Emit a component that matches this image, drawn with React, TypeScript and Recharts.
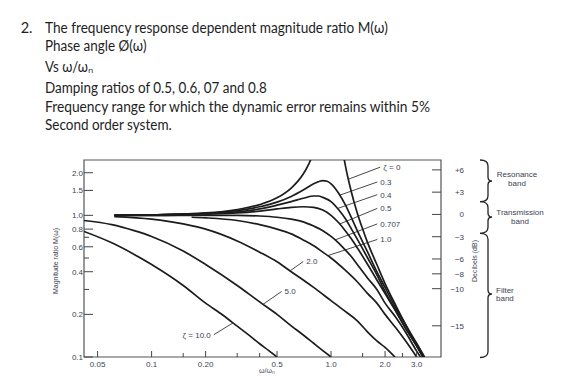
import React from "react";
import {
  LineChart,
  Line,
  XAxis,
  YAxis,
  ReferenceArea,
  ReferenceLine,
  ReferenceDot,
} from "recharts";

// axis ranges (log scales)
const xDomain = [0.042, 4.1];
const yDomain = [0.1, 2.46];
const dbDomain = [-19.2, 7.33];

const xTicks = [0.05, 0.1, 0.15, 0.2, 0.3, 0.4, 0.5, 1, 1.5, 2, 2.5, 3];
const xTickLabels = ["0.05", "0.1", "", "0.20", "", "", "0.5", "1.0", "", "2.0", "", "3.0"];
const yTicks = [0.1, 0.2, 0.3, 0.4, 0.5, 0.6, 0.7, 0.8, 1, 1.5, 2];
const yTickLabels = ["0.1", "0.2", "", "0.4", "", "0.6", "", "0.8", "1.0", "1.5", "2.0"];
const dbTicks = [6, 3, 0, -3, -6, -8, -10, -15];
const dbTickLabels = ["+6", "+3", "0", "−3", "−6", "−8", "−10", "−15"];

// magnitude ratio M vs frequency ratio w/wn, one pair of arrays per damping ratio
const ratioZeta0 = [0.062, 0.1, 0.2, 0.3, 0.4, 0.5, 0.6, 0.65, 0.7, 0.75, 0.8, 1.0, 1.15, 1.2, 1.3, 1.4, 1.5, 1.6, 1.8, 2.0, 2.3, 2.6, 3.0, 3.32];
const magZeta0 = [1.0, 1.01, 1.04, 1.1, 1.19, 1.33, 1.56, 1.73, 1.96, 2.29, 2.78, null, 3.1, 2.27, 1.45, 1.04, 0.8, 0.64, 0.45, 0.33, 0.23, 0.17, 0.125, 0.1];

const ratioZeta03 = [0.062, 0.1, 0.2, 0.3, 0.4, 0.5, 0.6, 0.7, 0.8, 0.9, 0.95, 1.0, 1.1, 1.2, 1.3, 1.4, 1.6, 1.8, 2.0, 2.3, 2.6, 3.0, 3.3];
const magZeta03 = [1.0, 1.01, 1.03, 1.08, 1.15, 1.24, 1.36, 1.51, 1.67, 1.76, 1.74, 1.67, 1.44, 1.19, 0.96, 0.78, 0.55, 0.4, 0.31, 0.22, 0.17, 0.12, 0.099];

const ratioZeta04 = [0.062, 0.1, 0.2, 0.3, 0.4, 0.5, 0.6, 0.7, 0.8, 0.85, 0.9, 1.0, 1.1, 1.2, 1.3, 1.4, 1.6, 1.8, 2.0, 2.3, 2.6, 3.0, 3.3];
const magZeta04 = [1.0, 1.01, 1.03, 1.06, 1.11, 1.18, 1.25, 1.32, 1.37, 1.37, 1.34, 1.25, 1.1, 0.95, 0.8, 0.68, 0.5, 0.38, 0.29, 0.21, 0.16, 0.12, 0.098];

const ratioZeta05 = [0.062, 0.1, 0.2, 0.3, 0.4, 0.5, 0.6, 0.7, 0.8, 0.9, 1.0, 1.1, 1.2, 1.3, 1.4, 1.6, 1.8, 2.0, 2.3, 2.6, 3.0, 3.25];
const magZeta05 = [1.0, 1.0, 1.02, 1.04, 1.07, 1.11, 1.14, 1.15, 1.14, 1.09, 1.0, 0.89, 0.78, 0.68, 0.59, 0.45, 0.35, 0.28, 0.21, 0.16, 0.12, 0.099];

const ratioZeta0707 = [0.062, 0.2, 0.3, 0.4, 0.5, 0.6, 0.7, 0.8, 0.9, 1.0, 1.1, 1.2, 1.3, 1.4, 1.6, 1.8, 2.0, 2.3, 2.6, 3.0, 3.15];
const magZeta0707 = [1.0, 1.0, 1.0, 0.99, 0.97, 0.94, 0.9, 0.84, 0.78, 0.71, 0.64, 0.57, 0.51, 0.45, 0.36, 0.3, 0.24, 0.19, 0.15, 0.11, 0.1];

const ratioZeta1 = [0.167, 0.2, 0.3, 0.4, 0.5, 0.6, 0.7, 0.8, 0.9, 1.0, 1.2, 1.4, 1.6, 1.8, 2.0, 2.3, 2.6, 3.0];
const magZeta1 = [0.97, 0.96, 0.92, 0.86, 0.8, 0.74, 0.67, 0.61, 0.55, 0.5, 0.41, 0.34, 0.28, 0.24, 0.2, 0.16, 0.13, 0.1];

const ratioZeta2 = [0.062, 0.1, 0.15, 0.2, 0.3, 0.4, 0.5, 0.6, 0.7, 0.8, 1.0, 1.2, 1.4, 1.6, 1.8, 2.0, 2.27];
const magZeta2 = [0.98, 0.94, 0.87, 0.8, 0.66, 0.55, 0.47, 0.4, 0.35, 0.31, 0.25, 0.21, 0.18, 0.15, 0.13, 0.117, 0.1];

const ratioZeta5 = [0.042, 0.06, 0.08, 0.1, 0.15, 0.2, 0.3, 0.4, 0.5, 0.6, 0.7, 0.8, 0.9, 1.0];
const magZeta5 = [0.92, 0.86, 0.78, 0.71, 0.56, 0.45, 0.32, 0.245, 0.2, 0.166, 0.143, 0.125, 0.111, 0.1];

const ratioZeta10 = [0.042, 0.06, 0.08, 0.1, 0.15, 0.2, 0.25, 0.3, 0.35, 0.4, 0.45, 0.5];
const magZeta10 = [0.77, 0.64, 0.53, 0.45, 0.32, 0.24, 0.197, 0.165, 0.142, 0.124, 0.111, 0.1];

// curve labels with their leader lines (from a point on the curve to the label)
const leaderText = ["ζ = 0", "0.3", "0.4", "0.5", "0.707", "1.0", "2.0", "5.0", "ζ = 10.0"];
const leaderFrom = [[1.25, 1.8], [1.12, 1.39], [1.09, 1.12], [1.12, 0.87], [1.05, 0.67], [0.96, 0.52], [0.59, 0.405], [0.417, 0.235], [0.284, 0.174]];
const leaderTo = [[1.88, 2.19], [1.81, 1.72], [1.81, 1.4], [1.81, 1.12], [1.81, 0.87], [1.81, 0.676], [0.7, 0.472], [0.53, 0.29], [0.222, 0.1436]];

const toRows = (r: number[], m: (number | null)[]) => r.map((v, i) => ({ r: v, m: m[i] }));

const curves = [
  toRows(ratioZeta0, magZeta0),
  toRows(ratioZeta03, magZeta03),
  toRows(ratioZeta04, magZeta04),
  toRows(ratioZeta05, magZeta05),
  toRows(ratioZeta0707, magZeta0707),
  toRows(ratioZeta1, magZeta1),
  toRows(ratioZeta2, magZeta2),
  toRows(ratioZeta5, magZeta5),
  toRows(ratioZeta10, magZeta10),
];

const tickColor = "#3b4256";
const inkColor = "#1c1c1c";

const renderXTick = (props: any) => {
  const { x, y, payload } = props;
  const label = xTickLabels[xTicks.indexOf(payload.value)];
  return (
    <g>
      <line x1={x} x2={x} y1={y} y2={y - (label ? 6 : 4)} stroke="#444" strokeWidth={1} />
      {label ? (
        <text x={x} y={y + 10} textAnchor="middle" fontSize={8} fill={tickColor}>
          {label}
        </text>
      ) : null}
    </g>
  );
};

const renderYTick = (props: any) => {
  const { x, y, payload } = props;
  const label = yTickLabels[yTicks.indexOf(payload.value)];
  return (
    <g>
      <line x1={x} x2={x + (label ? 9 : 5)} y1={y} y2={y} stroke="#444" strokeWidth={1} />
      {label ? (
        <text x={x - 1} y={y + 3} textAnchor="end" fontSize={8} fill={tickColor}>
          {label}
        </text>
      ) : null}
    </g>
  );
};

const renderDbTick = (props: any) => {
  const { x, y, payload } = props;
  const label = dbTickLabels[dbTicks.indexOf(payload.value)];
  return (
    <g>
      <line x1={x - 9} x2={x} y1={y} y2={y} stroke="#444" strokeWidth={1} />
      <text x={x + 23} y={y + 3} textAnchor="end" fontSize={8} fill={tickColor}>
        {label}
      </text>
    </g>
  );
};

// right-pointing curly brace
const brace = (y0: number, ym: number, y1: number) =>
  `M480 ${y0} Q488 ${y0} 488 ${y0 + 6} L488 ${ym - 4} Q488 ${ym} 492 ${ym} Q488 ${ym} 488 ${ym + 4} L488 ${y1 - 6} Q488 ${y1} 480 ${y1}`;

export default function App() {
  return (
    <div style={{ position: "absolute", left: 0, top: 0, width: 566, height: 391, background: "#fff" }}>
      <LineChart
        width={566}
        height={391}
        margin={{ top: 160, right: 95, bottom: 14, left: 54 }}
        style={{ fontFamily: "'Liberation Sans', Arial, sans-serif" }}
      >
        <XAxis
          dataKey="r"
          type="number"
          scale="log"
          domain={xDomain}
          allowDataOverflow
          ticks={xTicks}
          interval={0}
          tick={renderXTick}
          tickLine={false}
          axisLine={false}
          tickSize={0}
          tickMargin={0}
          height={20}
        />
        <YAxis
          type="number"
          scale="log"
          domain={yDomain}
          allowDataOverflow
          ticks={yTicks}
          interval={0}
          tick={renderYTick}
          tickLine={false}
          axisLine={false}
          tickSize={0}
          tickMargin={0}
          width={30}
        />
        <YAxis
          yAxisId="db"
          orientation="right"
          type="number"
          domain={dbDomain}
          allowDataOverflow
          ticks={dbTicks}
          interval={0}
          tick={renderDbTick}
          tickLine={false}
          axisLine={false}
          tickSize={0}
          tickMargin={0}
          width={30}
        />
        <ReferenceArea
          x1={xDomain[0]}
          x2={xDomain[1]}
          y1={yDomain[0]}
          y2={yDomain[1]}
          fill="none"
          stroke="#555"
          strokeWidth={1.2}
          ifOverflow="visible"
        />
        {leaderText.map((t, i) => (
          <ReferenceLine
            key={`ll-${i}`}
            segment={[
              { x: leaderFrom[i][0], y: leaderFrom[i][1] },
              { x: leaderTo[i][0], y: leaderTo[i][1] },
            ]}
            stroke="#333"
            strokeWidth={0.9}
          />
        ))}
        {curves.map((rows, i) => (
          <Line
            key={`c-${i}`}
            data={rows}
            dataKey="m"
            type="monotone"
            stroke={inkColor}
            strokeWidth={1.7}
            dot={false}
            connectNulls={false}
            isAnimationActive={false}
          />
        ))}
        {leaderText.map((t, i) => (
          <ReferenceDot
            key={`lt-${i}`}
            x={leaderTo[i][0]}
            y={leaderTo[i][1]}
            r={0}
            fill="none"
            stroke="none"
            label={{
              value: t,
              position: i === leaderText.length - 1 ? "left" : "right",
              offset: 3,
              fontSize: 8,
              fill: tickColor,
            }}
          />
        ))}
      </LineChart>

      <svg
        width={566}
        height={391}
        style={{ position: "absolute", left: 0, top: 0, pointerEvents: "none" }}
      >
        <g fontFamily="Lato, 'Open Sans', sans-serif" fontSize={14.5} fill="#1e1e1e">
          <text x={20.7} y={32.5}>2.</text>
          <text x={45} y={32.5} textLength={343} lengthAdjust="spacingAndGlyphs">
            The frequency response dependent magnitude ratio M(ω)
          </text>
          <text x={45} y={51} textLength={101.7} lengthAdjust="spacingAndGlyphs">
            Phase angle Ø(ω)
          </text>
          <text x={45} y={72} textLength={48.3} lengthAdjust="spacingAndGlyphs">
            Vs ω/ωₙ
          </text>
          <text x={45} y={93} textLength={221.7} lengthAdjust="spacingAndGlyphs">
            Damping ratios of 0.5, 0.6, 07 and 0.8
          </text>
          <text x={45} y={112} textLength={385} lengthAdjust="spacingAndGlyphs">
            Frequency range for which the dynamic error remains within 5%
          </text>
          <text x={45} y={130} textLength={126.7} lengthAdjust="spacingAndGlyphs">
            Second order system.
          </text>
        </g>

        <g fontFamily="'Liberation Sans', Arial, sans-serif" fill={tickColor}>
          <text x={58} y={261} fontSize={7} textAnchor="middle" transform="rotate(-90 58 261)">
            Magnitude ratio M(ω)
          </text>
          <text x={267} y={373} fontSize={7} textAnchor="middle">
            ω/ωₙ
          </text>
          <text x={477} y={261} fontSize={7} textAnchor="middle" transform="rotate(-90 477 261)">
            Decibels (dB)
          </text>

          <text x={517} y={177} fontSize={8} textAnchor="middle">Resonance</text>
          <text x={517} y={186} fontSize={8} textAnchor="middle">band</text>
          <text x={520} y={214.5} fontSize={8} textAnchor="middle">Transmission</text>
          <text x={520} y={223.5} fontSize={8} textAnchor="middle">band</text>
          <text x={496} y={292.5} fontSize={8}>Filter</text>
          <text x={496} y={301} fontSize={8}>band</text>
        </g>

        <g fill="none" stroke="#222" strokeWidth={1.3}>
          <path d={brace(160, 181, 201.7)} />
          <path d={brace(201.7, 217, 233.3)} />
          <path d={brace(233.3, 294, 357.5)} />
        </g>
      </svg>
    </div>
  );
}
